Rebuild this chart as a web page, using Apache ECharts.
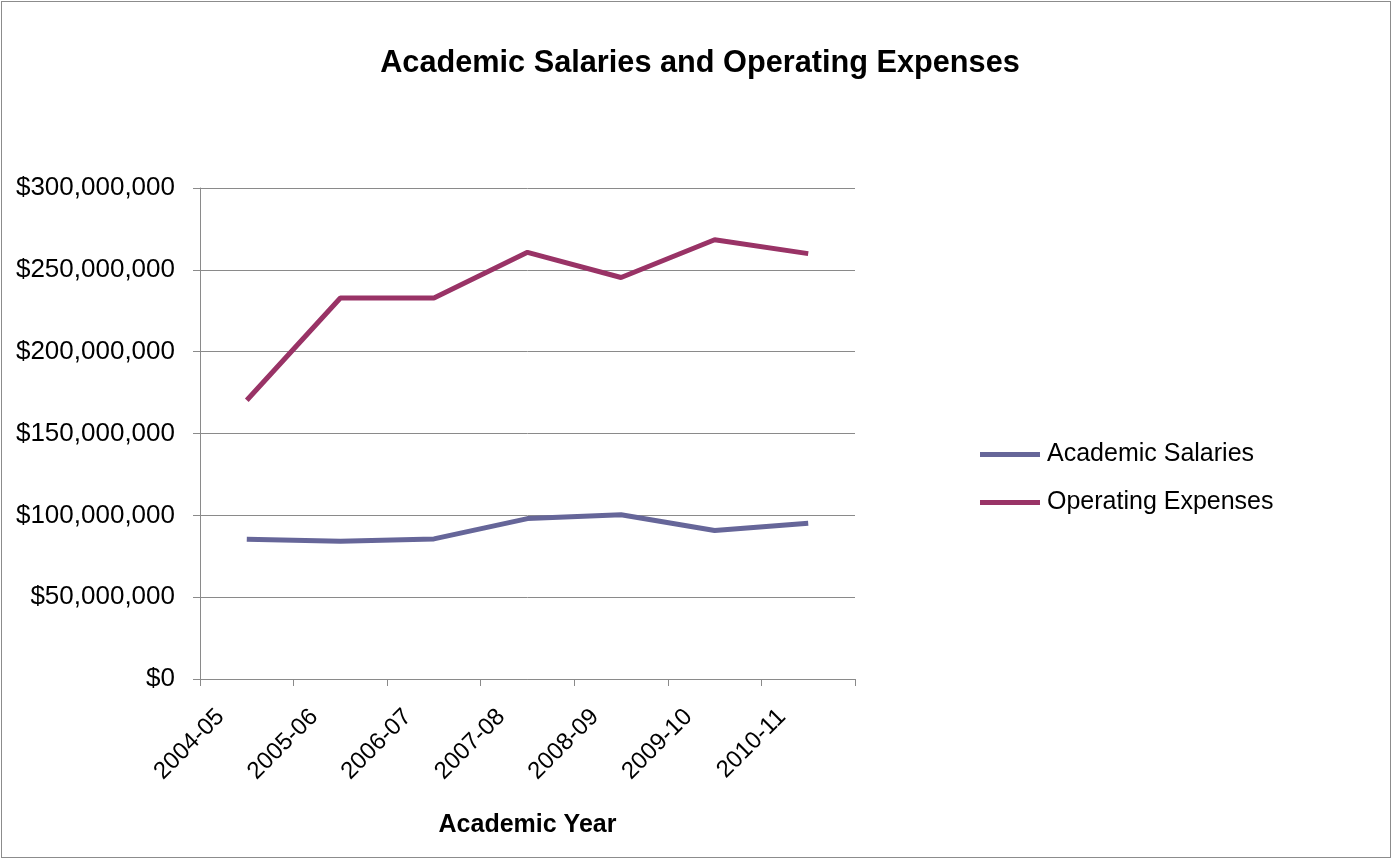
<!DOCTYPE html>
<html>
<head>
<meta charset="utf-8">
<script src="https://cdn.jsdelivr.net/npm/echarts@6/dist/echarts.min.js"></script>
<style>
  html, body { margin: 0; padding: 0; background: #fff; }
  #wrap { position: relative; width: 1392px; height: 858px; }
  #chart { position: absolute; left: 0; top: 0; width: 1392px; height: 858px; }
  #frame { position: absolute; left: 1px; top: 1px; width: 1388px; height: 855px;
           border: 1px solid #8c8c8c; pointer-events: none; }
</style>
</head>
<body>
<div id="wrap">
  <div id="chart"></div>
  <div id="frame"></div>
</div>
<script>
// Academic years on the category axis
const years = ['2004-05', '2005-06', '2006-07', '2007-08', '2008-09', '2009-10', '2010-11'];

// Annual totals in dollars
const academicSalaries = [85400000, 84100000, 85600000, 98000000, 100400000, 90700000, 95100000];
const operatingExpenses = [170300000, 232800000, 232800000, 260700000, 245300000, 268400000, 259900000];

// Value axis range and step
const yMin = 0;
const yMax = 300000000;
const yStep = 50000000;

const chart = echarts.init(document.getElementById('chart'), null, { renderer: 'canvas' });

const fontFamily = '"Liberation Sans", Arial, sans-serif';
const gridColor = '#8a8a8a';

chart.setOption({
  animation: false,
  backgroundColor: '#ffffff',
  title: {
    text: 'Academic Salaries and Operating Expenses',
    left: 695,
    textAlign: 'center',
    top: 43,
    textStyle: {
      fontFamily: fontFamily,
      fontWeight: 'bold',
      fontSize: 30.7,
      color: '#000'
    }
  },
  legend: {
    orient: 'vertical',
    left: 980,
    top: 442,
    padding: 0,
    itemWidth: 60,
    itemHeight: 5,
    itemGap: 23,
    icon: 'rect',
    textStyle: {
      fontFamily: fontFamily,
      fontSize: 25,
      color: '#000',
      padding: [0, 0, 0, 2]
    },
    data: ['Academic Salaries', 'Operating Expenses']
  },
  grid: {
    left: 200,
    right: 537,
    top: 188,
    bottom: 179,
    containLabel: false
  },
  xAxis: {
    type: 'category',
    data: years,
    boundaryGap: true,
    name: 'Academic Year',
    nameLocation: 'middle',
    nameGap: 134,
    nameTextStyle: {
      fontFamily: fontFamily,
      fontWeight: 'bold',
      fontSize: 25,
      color: '#000'
    },
    axisLine: { show: true, lineStyle: { color: gridColor, width: 1 } },
    axisTick: { show: true, length: 7, lineStyle: { color: gridColor } },
    axisLabel: {
      rotate: 45,
      margin: 8,
      padding: [0, 37, 0, 0],
      fontFamily: fontFamily,
      fontSize: 24,
      color: '#000',
      interval: 0
    },
    splitLine: { show: false }
  },
  yAxis: {
    type: 'value',
    min: yMin,
    max: yMax,
    interval: yStep,
    axisLine: { show: true, lineStyle: { color: gridColor, width: 1 } },
    axisTick: { show: true, length: 7, lineStyle: { color: gridColor } },
    axisLabel: {
      margin: 25,
      fontFamily: fontFamily,
      fontSize: 26,
      color: '#000',
      formatter: function (v) { return '$' + v.toLocaleString('en-US'); }
    },
    splitLine: { show: true, lineStyle: { color: gridColor, width: 1 } }
  },
  series: [
    {
      name: 'Academic Salaries',
      type: 'line',
      data: academicSalaries,
      color: '#666699',
      symbol: 'none',
      lineStyle: { width: 5, color: '#666699' }
    },
    {
      name: 'Operating Expenses',
      type: 'line',
      data: operatingExpenses,
      color: '#993366',
      symbol: 'none',
      lineStyle: { width: 5, color: '#993366' }
    }
  ]
});
</script>
</body>
</html>
